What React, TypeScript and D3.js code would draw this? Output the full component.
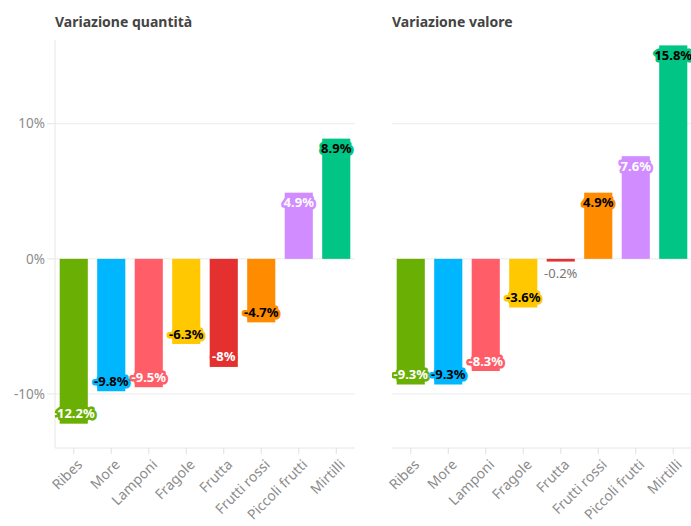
import React from "react";
import * as d3 from "d3";

const categories = ["Ribes", "More", "Lamponi", "Fragole", "Frutta", "Frutti rossi", "Piccoli frutti", "Mirtilli"];
const quantityChange = [-12.2, -9.8, -9.5, -6.3, -8, -4.7, 4.9, 8.9];
const valueChange = [-9.3, -9.3, -8.3, -3.6, -0.2, 4.9, 7.6, 15.8];
const yTicks = [-10, 0, 10];
const panelTitles = ["Variazione quantità", "Variazione valore"];

const barColors = ["#6ab004", "#00b6ff", "#ff5e68", "#ffc800", "#e4312f", "#ff8c00", "#d18cff", "#00c584"];
const labelTextColors = ["#ffffff", "#000000", "#ffffff", "#000000", "#ffffff", "#000000", "#ffffff", "#000000"];

const W = 691;
const H = 526;
const FONT = "'Noto Sans', 'Open Sans', sans-serif";

const y = d3.scaleLinear().domain([-14, 16.2]).range([448, 40]);

function fmt(v: number) {
  return `${v}%`;
}

function Panel({ x0, x1, values, title, showYAxis, id }: { x0: number; x1: number; values: number[]; title: string; showYAxis: boolean; id: string }) {
  const x = d3.scaleBand<string>().domain(categories).range([x0, x0 + 300]).paddingInner(0.25).paddingOuter(0.125);
  const y0 = y(0);
  return (
    <g>
      <defs>
        <clipPath id={id}>
          <rect x={x0} y={0} width={x1 - x0} height={H} />
        </clipPath>
      </defs>
      <text x={x0} y={27} fontFamily={FONT} fontSize={14} fontWeight={700} fill="#444">
        {title}
      </text>
      {yTicks.map((t) => (
        <line key={t} x1={x0} x2={x1} y1={y(t)} y2={y(t)} stroke="#ebebeb" strokeWidth={1} />
      ))}
      <line x1={x0} x2={x1} y1={448} y2={448} stroke="#e6e6e6" strokeWidth={1} />
      {showYAxis && <line x1={x0} x2={x0} y1={40} y2={448} stroke="#e6e6e6" strokeWidth={1} />}
      {showYAxis &&
        yTicks.map((t) => (
          <g key={t}>
            <line x1={x0 - 8} x2={x0} y1={y(t)} y2={y(t)} stroke="#e6e6e6" />
            <text x={x0 - 10} y={y(t)} dy="0.35em" textAnchor="end" fontFamily={FONT} fontSize={13.5} fill="#8c8c8c">
              {fmt(t)}
            </text>
          </g>
        ))}
      {categories.map((c) => {
        const cx = (x(c) as number) + x.bandwidth() / 2;
        return (
          <g key={c}>
            <line x1={cx} x2={cx} y1={448} y2={454} stroke="#e0e0e0" />
            <text
              transform={`translate(${cx + 6},${462}) rotate(-45)`}
              textAnchor="end"
              dy="0.35em"
              fontFamily={FONT}
              fontSize={14}
              fill="#8c8c8c"
            >
              {c}
            </text>
          </g>
        );
      })}
      <g clipPath={`url(#${id})`}>
        {values.map((v, i) => {
          const c = categories[i];
          const bx = x(c) as number;
          const yv = y(v);
          return (
            <rect key={c} x={bx} y={Math.min(yv, y0)} width={x.bandwidth()} height={Math.abs(yv - y0)} fill={barColors[i]} />
          );
        })}
        {values.map((v, i) => {
          const c = categories[i];
          const cx = (x(c) as number) + x.bandwidth() / 2;
          const yv = y(v);
          const h = Math.abs(yv - y0);
          if (h < 20) {
            const ly = v < 0 ? yv + 12 : yv - 12;
            return (
              <text key={c} x={cx} y={ly} dy="0.35em" textAnchor="middle" fontFamily={FONT} fontSize={13} fill="#777">
                {fmt(v)}
              </text>
            );
          }
          const ly = v < 0 ? yv - 10 : yv + 10;
          return (
            <text
              key={c}
              x={cx}
              y={ly}
              dy="0.35em"
              textAnchor="middle"
              fontFamily={FONT}
              fontSize={13}
              fontWeight={700}
              fill={labelTextColors[i]}
              stroke={barColors[i]}
              strokeWidth={5}
              strokeLinejoin="round"
              paintOrder="stroke"
            >
              {fmt(v)}
            </text>
          );
        })}
      </g>
    </g>
  );
}

export default function App() {
  return (
    <svg width={W} height={H} style={{ position: "absolute", left: 0, top: 0, background: "#fff" }}>
      <rect width={W} height={H} fill="#fff" />
      <Panel x0={55} x1={355} values={quantityChange} title={panelTitles[0]} showYAxis={true} id="clipA" />
      <Panel x0={392} x1={691} values={valueChange} title={panelTitles[1]} showYAxis={false} id="clipB" />
    </svg>
  );
}
